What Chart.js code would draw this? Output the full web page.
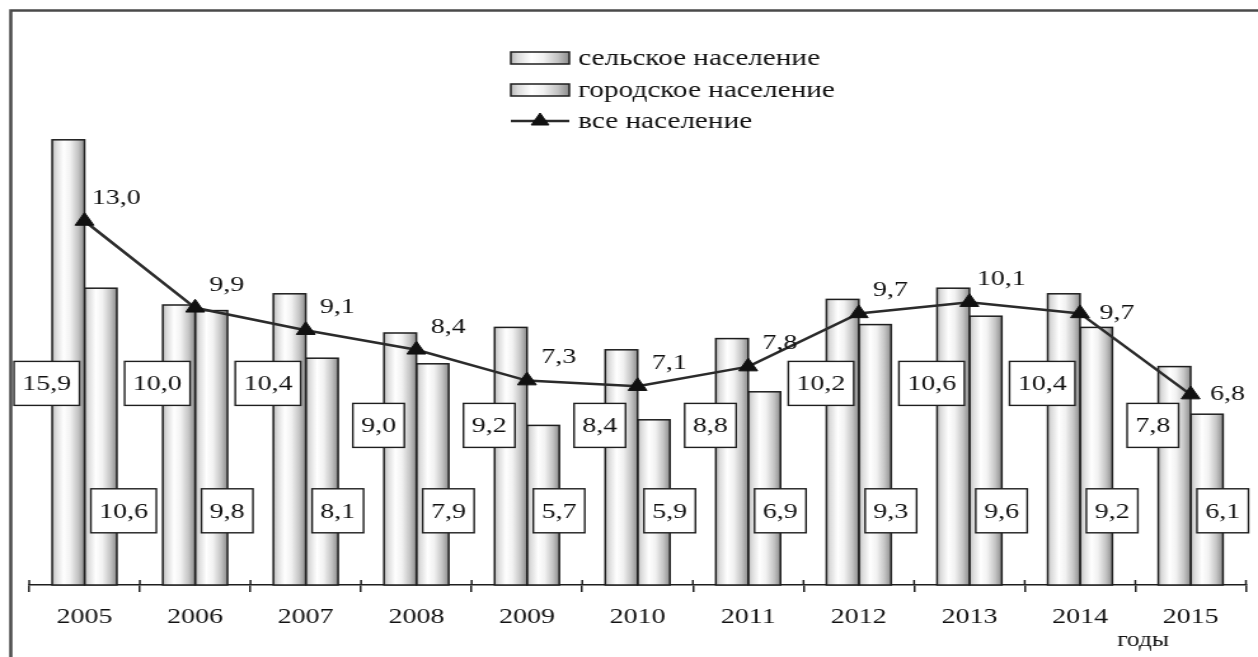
<!DOCTYPE html>
<html>
<head>
<meta charset="utf-8">
<script src="https://cdn.jsdelivr.net/npm/chart.js@4.4.1/dist/chart.umd.min.js"></script>
<style>
    html, body { margin: 0; padding: 0; background: #fff; }
    /* the original picture is stretched sideways, so the canvas is too */
    #chart { display: block; width: 1258px !important; height: 657px !important; }
</style>
</head>
<body>
<canvas id="chart" width="990" height="657"></canvas>
<script>
const years = ["2005", "2006", "2007", "2008", "2009", "2010", "2011", "2012", "2013", "2014", "2015"];
const rural = [15.9, 10.0, 10.4, 9.0, 9.2, 8.4, 8.8, 10.2, 10.6, 10.4, 7.8];
const urban = [10.6, 9.8, 8.1, 7.9, 5.7, 5.9, 6.9, 9.3, 9.6, 9.2, 6.1];
const total = [13.0, 9.9, 9.1, 8.4, 7.3, 7.1, 7.8, 9.7, 10.1, 9.7, 6.8];
const seriesNames = ["сельское население", "городское население", "все население"];
const axisNote = "годы";

const FONT = '"Liberation Serif", "Times New Roman", serif';
const INK = "#1e1e1e";
const fmt = (v) => v.toFixed(1).replace(".", ",");

function cylinder(ctx, left, width) {
    const g = ctx.createLinearGradient(left, 0, left + width, 0);
    g.addColorStop(0, "#b8b8b8");
    g.addColorStop(0.12, "#dcdcdc");
    g.addColorStop(0.35, "#ffffff");
    g.addColorStop(0.55, "#f2f2f2");
    g.addColorStop(0.8, "#c4c4c4");
    g.addColorStop(1, "#8c8c8c");
    return g;
}

function box(ctx, text, cx, cy) {
    const w = ctx.measureText(text).width + 13;
    const h = 44;
    ctx.fillStyle = "#fff";
    ctx.fillRect(cx - w / 2, cy - h / 2, w, h);
    ctx.lineWidth = 1.4;
    ctx.strokeStyle = INK;
    ctx.strokeRect(cx - w / 2, cy - h / 2, w, h);
    ctx.fillStyle = "#111";
    ctx.fillText(text, cx, cy + 1);
}

// frame around the picture (only top and left edges are inside the view)
const frame = {
    id: "frame",
    beforeDraw(chart) {
        const ctx = chart.ctx;
        ctx.save();
        ctx.strokeStyle = "#4a4a4a";
        ctx.lineWidth = 2.5;
        ctx.beginPath();
        ctx.moveTo(8.5, 700);
        ctx.lineTo(8.5, 10.5);
        ctx.lineTo(1000, 10.5);
        ctx.stroke();
        ctx.restore();
    },
};

// bars drawn with a cylinder-like shading
const cylinderBars = {
    id: "cylinderBars",
    beforeDatasetDraw(chart, args) {
        if (args.meta.type !== "bar") return;
        const ctx = chart.ctx;
        ctx.save();
        args.meta.data.forEach((bar) => {
            const { x, y, base, width } = bar.getProps(["x", "y", "base", "width"], true);
            const left = x - width / 2;
            ctx.fillStyle = cylinder(ctx, left, width);
            ctx.fillRect(left, y, width, base - y);
            ctx.lineWidth = 1.5;
            ctx.strokeStyle = INK;
            ctx.strokeRect(left, y, width, base - y);
        });
        ctx.restore();
        return false;
    },
};

const valueLabels = {
    id: "valueLabels",
    afterDatasetsDraw(chart) {
        const ctx = chart.ctx;
        const yScale = chart.scales.y;
        const ruralMeta = chart.getDatasetMeta(0);
        const urbanMeta = chart.getDatasetMeta(1);
        const lineMeta = chart.getDatasetMeta(2);
        ctx.save();
        ctx.font = `22px ${FONT}`;
        ctx.textAlign = "center";
        ctx.textBaseline = "middle";

        rural.forEach((v, i) => {
            const bar = ruralMeta.data[i];
            box(ctx, fmt(v), bar.x - 17, yScale.getPixelForValue(v >= 10 ? 7.2 : 5.7));
        });
        urban.forEach((v, i) => {
            const bar = urbanMeta.data[i];
            const w = ctx.measureText(fmt(v)).width + 13;
            box(ctx, fmt(v), bar.x - bar.width / 2 + 5 + w / 2, yScale.getPixelForValue(2.65));
        });
        ctx.fillStyle = "#111";
        total.forEach((v, i) => {
            const pt = lineMeta.data[i];
            const aside = i >= total.length - 2;
            ctx.fillText(fmt(v), pt.x + (aside ? 29 : 25), pt.y + (aside ? 0 : -23));
        });
        ctx.restore();
    },
};

const extras = {
    id: "extras",
    afterDraw(chart) {
        const ctx = chart.ctx;
        const xs = chart.scales.x;
        const half = (xs.getPixelForValue(1) - xs.getPixelForValue(0)) / 2;
        const axisY = chart.chartArea.bottom;
        ctx.save();

        // small tick stubs above the axis line
        ctx.strokeStyle = INK;
        ctx.lineWidth = 1.5;
        for (let i = 0; i <= years.length; i++) {
            const x = xs.getPixelForValue(Math.min(i, years.length - 1)) + (i < years.length ? -half : half);
            ctx.beginPath();
            ctx.moveTo(x, axisY - 5);
            ctx.lineTo(x, axisY);
            ctx.stroke();
        }

        // "годы" under the last years
        ctx.fillStyle = "#111";
        ctx.font = `20px ${FONT}`;
        ctx.textAlign = "center";
        ctx.textBaseline = "middle";
        ctx.fillText(axisNote, 899.5, 641);

        // legend
        const lx = 402, lw = 46, tx = 455;
        const rows = [58, 90, 121];
        ctx.font = `23px ${FONT}`;
        ctx.textAlign = "left";
        [0, 1].forEach((k) => {
            const yy = rows[k] - 6;
            ctx.fillStyle = cylinder(ctx, lx, lw);
            ctx.fillRect(lx, yy, lw, 12);
            ctx.lineWidth = 1.5;
            ctx.strokeStyle = INK;
            ctx.strokeRect(lx, yy, lw, 12);
        });
        ctx.strokeStyle = "#2b2b2b";
        ctx.lineWidth = 2.5;
        ctx.beginPath();
        ctx.moveTo(lx, rows[2]);
        ctx.lineTo(lx + lw, rows[2]);
        ctx.stroke();
        ctx.fillStyle = "#111";
        ctx.strokeStyle = "#111";
        ctx.lineWidth = 1;
        Chart.helpers.drawPoint(ctx, { pointStyle: "triangle", radius: 8, borderWidth: 1 }, lx + lw / 2, rows[2]);
        seriesNames.forEach((name, k) => {
            ctx.fillStyle = "#111";
            ctx.fillText(name, tx, rows[k] + 1);
        });
        ctx.restore();
    },
};

const chart = new Chart(document.getElementById("chart").getContext("2d"), {
    type: "bar",
    data: {
        labels: years,
        datasets: [
            {
                label: seriesNames[0],
                data: rural,
                backgroundColor: "#e0e0e0",
                borderColor: INK,
                categoryPercentage: 0.585,
                barPercentage: 1.0,
                order: 1,
            },
            {
                label: seriesNames[1],
                data: urban,
                backgroundColor: "#d0d0d0",
                borderColor: INK,
                categoryPercentage: 0.585,
                barPercentage: 1.0,
                order: 1,
            },
            {
                type: "line",
                label: seriesNames[2],
                data: total,
                borderColor: "#2b2b2b",
                borderWidth: 2.5,
                tension: 0,
                pointStyle: "triangle",
                pointRadius: 8.5,
                pointBackgroundColor: "#111",
                pointBorderColor: "#111",
                pointBorderWidth: 1,
                order: 0,
            },
        ],
    },
    options: {
        responsive: false,
        devicePixelRatio: 1,
        animation: false,
        layout: { padding: { left: 23, right: 5, top: 25, bottom: 0 } },
        plugins: {
            legend: { display: false },
            tooltip: { enabled: false },
        },
        scales: {
            x: {
                offset: true,
                grid: {
                    offset: true,
                    drawOnChartArea: false,
                    drawTicks: true,
                    tickLength: 7,
                    color: INK,
                    lineWidth: 1.5,
                },
                border: { display: true, color: INK, width: 1.5 },
                ticks: {
                    color: "#111",
                    font: { family: FONT, size: 22 },
                    padding: 12,
                    maxRotation: 0,
                },
                afterFit(scale) {
                    scale.height = 72;
                },
            },
            y: {
                display: false,
                min: 0,
                max: 20,
            },
        },
    },
    plugins: [frame, cylinderBars, valueLabels, extras],
});
</script>
</body>
</html>
